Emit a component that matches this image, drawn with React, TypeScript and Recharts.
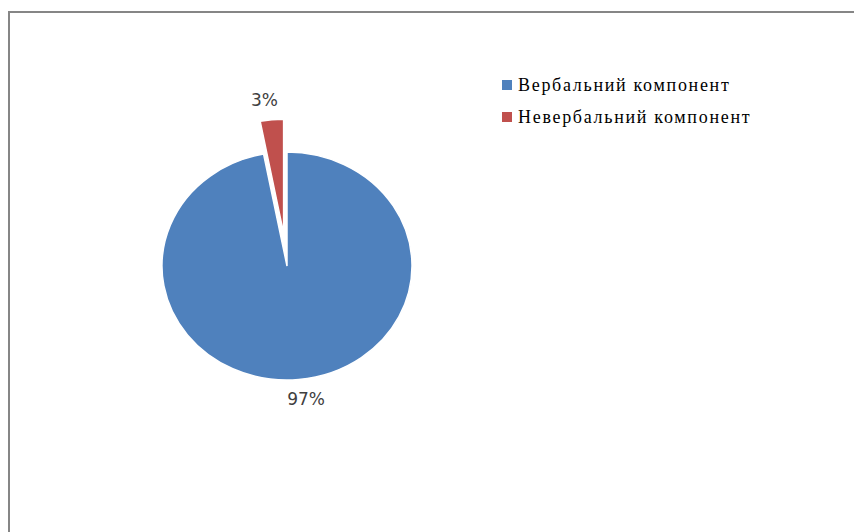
import React from 'react';
import { PieChart, Pie, Legend } from 'recharts';

const categories = ['Вербальний компонент', 'Невербальний компонент'];
const values = [97, 3];
const colors = ['#4F81BD', '#C0504D'];
const explode = [0, 36];

const data = categories.map((name, i) => ({ name, value: values[i], fill: colors[i] }));

const RY = 0.912;
const RAD = Math.PI / 180;

const idxOf = (p: any) => categories.indexOf(p?.payload?.name ?? p?.name);

function offsetCenter(p: any) {
  const i = idxOf(p);
  const off = explode[i] ?? 0;
  const m = p.midAngle * RAD;
  return { x: p.cx + off * Math.cos(m), y: p.cy - off * Math.sin(m) * RY };
}

function EllipseSector(p: any) {
  const { x, y } = offsetCenter(p);
  const rx = p.outerRadius;
  const ry = p.outerRadius * RY;
  const s = p.startAngle * RAD;
  const e = p.endAngle * RAD;
  const x1 = x + rx * Math.cos(s);
  const y1 = y - ry * Math.sin(s);
  const x2 = x + rx * Math.cos(e);
  const y2 = y - ry * Math.sin(e);
  const large = Math.abs(p.endAngle - p.startAngle) > 180 ? 1 : 0;
  const sweep = p.endAngle < p.startAngle ? 1 : 0;
  return (
    <path
      d={`M${x},${y}L${x1},${y1}A${rx},${ry} 0 ${large} ${sweep} ${x2},${y2}Z`}
      fill={p.fill}
      stroke="#ffffff"
      strokeWidth={1.5}
    />
  );
}

function PctLabel(p: any) {
  const { x, y } = offsetCenter(p);
  const m = p.midAngle * RAD;
  const d = 20;
  const lx = x + (p.outerRadius + d) * Math.cos(m) * 1.4;
  const ly = y - (p.outerRadius * RY + d) * Math.sin(m);
  return (
    <text
      x={lx}
      y={ly}
      textAnchor="middle"
      dominantBaseline="central"
      fontFamily="DejaVu Sans"
      fontSize={17}
      fill="#404040"
    >
      {`${Math.round(p.percent * 100)}%`}
    </text>
  );
}

const renderLegend = (props: any) => (
  <div style={{ fontFamily: 'Liberation Serif', fontSize: 18, letterSpacing: 1.7, color: '#000', whiteSpace: 'nowrap' }}>
    {(props.payload || []).map((entry: any) => (
      <div key={entry.value} style={{ height: 32, display: 'flex', alignItems: 'center' }}>
        <span style={{ display: 'inline-block', width: 10, height: 10, background: entry.color, marginRight: 6 }} />
        <span>{entry.value}</span>
      </div>
    ))}
  </div>
);

export default function App() {
  return (
    <div style={{ position: 'absolute', left: 0, top: 0, width: 854, height: 532, overflow: 'hidden', background: '#fff' }}>
      <div
        style={{
          position: 'absolute',
          left: 8,
          top: 11,
          width: 900,
          height: 600,
          borderTop: '2px solid #868686',
          borderLeft: '2px solid #868686',
        }}
      />
      <div style={{ position: 'absolute', left: 0, top: 0 }}>
        <PieChart width={854} height={532} margin={{ top: 0, right: 0, bottom: 0, left: 0 }}>
          <Pie
            data={data}
            dataKey="value"
            nameKey="name"
            cx={287}
            cy={266}
            outerRadius={125}
            startAngle={90}
            endAngle={-270}
            isAnimationActive={false}
            shape={EllipseSector}
            label={PctLabel}
            labelLine={false}
          />
          <Legend
            layout="vertical"
            align="right"
            verticalAlign="middle"
            content={renderLegend}
            wrapperStyle={{ position: 'absolute', left: 502, top: 69, width: 340 }}
          />
        </PieChart>
      </div>
    </div>
  );
}
